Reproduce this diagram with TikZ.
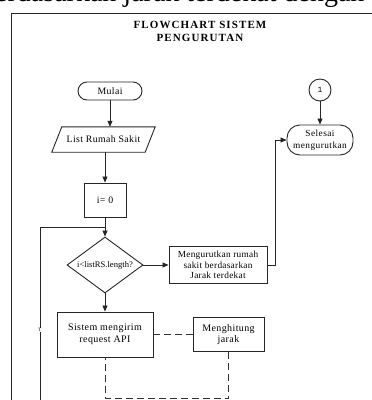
\documentclass[tikz,border=0pt]{standalone}
\usepackage{fontspec}
\setmainfont{Liberation Serif}
\newfontfamily\monofam{Liberation Mono}
\usetikzlibrary{arrows.meta,shapes.geometric,calc}
\begin{document}
\begin{tikzpicture}[x=1pt,y=-1pt,
  line/.style={draw=black!85, line width=0.8pt},
  arr/.style={line, -{Triangle[length=6pt,width=5pt]}},
  dashline/.style={draw=black!80, line width=1pt, dash pattern=on 7pt off 4pt},
  txt/.style={font=\fontsize{9.8}{12}\selectfont\addfontfeatures{LetterSpace=4}},
  proc/.style={txt, draw=black!85, line width=0.9pt, inner sep=0pt, align=center},
  term/.style={proc, rounded corners=9pt}
]
\useasboundingbox (0,0) rectangle (372,400);

% running text of the page above the figure
\node[anchor=base west, inner sep=0pt, font=\fontsize{28}{30}\selectfont] (headline) at (-19,1.5) {berdasarkan jarak terdekat dengan};

% figure frame
\coordinate (framebl) at (11,410);
\coordinate (frametr) at (385,13);
\draw[line] (framebl) |- (frametr);

% title
\node[align=center, font=\bfseries\fontsize{11}{13}\selectfont\addfontfeatures{LetterSpace=10}] (title) at (200,31.5) {FLOWCHART SISTEM\\PENGURUTAN};

% main column
\node[term, minimum width=64pt, minimum height=18pt] (mulai) at (110,91) {Mulai};
\node[txt, inner sep=0pt, minimum width=93pt, minimum height=25pt] (list) at (103.5,139.5) {List Rumah Sakit};
\draw[line, line width=0.9pt] ($(list.south west)+(-5,0)$) -- ($(list.north west)+(5,0)$)
  -- ($(list.north east)+(5,0)$) -- ($(list.south east)+(-5,0)$) -- cycle;
\node[proc, minimum width=42pt, minimum height=34pt] (i0) at (105,200) {i= 0};
\node[diamond, draw=black!85, line width=0.9pt, inner sep=0pt, minimum width=76pt, minimum height=56pt,
  font=\fontsize{8.6}{10}\selectfont] (dec) at (105,265) {\makebox[0pt]{i<listRS.length?}};
\node[proc, minimum width=96pt, minimum height=45pt, font=\fontsize{10}{12}\selectfont\addfontfeatures{LetterSpace=4}] (sis) at (105,334.5) {Sistem mengirim\\request API};
\node[proc, minimum width=71pt, minimum height=34pt, font=\fontsize{10}{11.5}\selectfont\addfontfeatures{LetterSpace=4}] (hit) at (228.5,334.5) {Menghitung\\jarak};

% sorting and end
\node[proc, minimum width=98pt, minimum height=37pt, font=\fontsize{9.3}{10.5}\selectfont\addfontfeatures{LetterSpace=3}] (urut) at (218,265) {Mengurutkan rumah\\sakit berdasarkan\\Jarak terdekat};
\node[term, rounded corners=13pt, minimum width=66pt, minimum height=30pt, font=\fontsize{9.3}{12}\selectfont\addfontfeatures{LetterSpace=5}] (selesai) at (320,140) {Selesai\\mengurutkan};
\node[circle, draw=black!85, line width=0.9pt, minimum size=22pt, inner sep=0pt, font=\monofam\fontsize{8}{8}\selectfont] (con1) at (320,90) {1};

% connectors
\draw[arr] (mulai.south) -- (mulai.south |- list.north);
\draw[arr] (list.south -| i0) -- (i0.north);
\draw[arr] (i0.south) -- (dec.north);
\coordinate (loopstart) at (40,410);
\coordinate (loopjoin) at (105,227);
\draw[line] (loopstart) |- (loopjoin);
\node[fill=white, inner sep=0.6pt, font=\fontsize{5}{5}\selectfont] (tmark) at (40,330) {T};
\draw[arr] (dec.east) -- (urut.west);
\draw[arr] (urut.east) -- ++(8,0) |- (selesai.west);
\draw[arr] (con1.south) -- (selesai.north);
\draw[arr] (dec.south) -- (sis.north);
\draw[dashline] (sis.east) -- (hit.west);
\draw[dashline] (hit.south) -- ++(0,47) -| (sis.south);
\end{tikzpicture}
\end{document}
